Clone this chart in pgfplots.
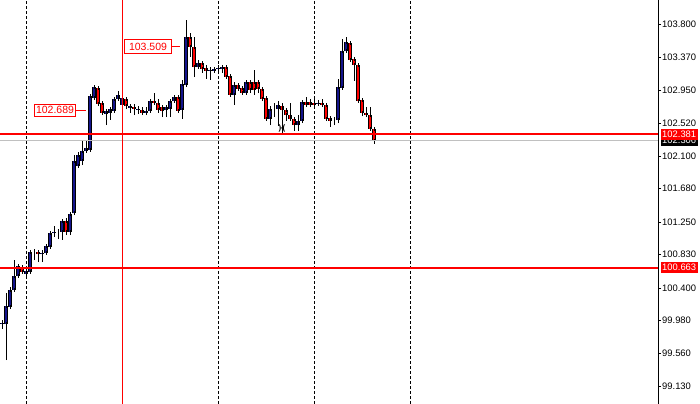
\documentclass[border=0pt]{standalone}
\usepackage{fontspec}
\setmainfont{Liberation Sans}
\usepackage{pgfplots}
\usepackage{pgfplotstable}
\pgfplotsset{compat=1.18}

\definecolor{bullblue}{RGB}{20,20,140}
\definecolor{bearred}{RGB}{255,0,0}
\definecolor{bidgray}{RGB}{192,192,192}

% candles: x = bar index, o h l c = open high low close
\pgfplotstableread{
x o h l c
0 99.937 99.988 99.873 99.950
1 99.937 100.336 99.473 100.169
2 100.156 100.413 100.130 100.375
3 100.375 100.761 100.375 100.555
4 100.555 100.710 100.542 100.684
6 100.581 100.671 100.568 100.619
7 100.607 100.890 100.607 100.864
8 100.877 100.890 100.761 100.877
10 100.838 100.890 100.735 100.851
11 100.851 100.967 100.838 100.941
12 100.928 101.122 100.903 101.109
13 101.109 101.199 101.057 101.122
14 101.122 101.160 101.031 101.122
15 101.122 101.276 101.019 101.263
17 101.122 101.366 101.083 101.353
18 101.366 102.113 101.340 102.036
19 101.971 102.152 101.959 102.113
20 102.036 102.293 101.984 102.165
21 102.165 102.293 102.152 102.203
22 102.177 102.886 102.165 102.873
23 102.847 103.014 102.834 102.989
26 102.641 102.693 102.499 102.680
27 102.654 102.718 102.564 102.705
28 102.680 102.847 102.667 102.834
29 102.834 102.937 102.821 102.886
30 102.757 102.899 102.718 102.847
32 102.718 102.770 102.654 102.744
34 102.693 102.744 102.641 102.705
36 102.654 102.731 102.628 102.680
37 102.680 102.821 102.667 102.808
41 102.693 102.744 102.602 102.731
42 102.705 102.834 102.602 102.808
43 102.808 102.873 102.796 102.860
45 102.693 103.079 102.577 103.027
46 103.014 103.851 102.989 103.633
49 103.246 103.336 103.233 103.298
52 103.195 103.246 103.079 103.208
53 103.195 103.246 103.169 103.220
54 103.220 103.272 103.195 103.233
55 103.220 103.272 103.169 103.246
58 102.886 103.053 102.757 103.014
61 102.911 103.066 102.911 103.053
67 102.577 102.744 102.499 102.705
68 102.705 102.783 102.602 102.705
69 102.705 102.808 102.487 102.757
74 102.499 102.628 102.422 102.551
75 102.551 102.808 102.525 102.796
79 102.770 102.821 102.744 102.783
83 102.564 102.602 102.499 102.564
84 102.564 103.092 102.525 102.989
85 102.976 103.607 102.963 103.452
86 103.452 103.633 103.452 103.568
}\bull

\pgfplotstableread{
x o h l c
5 100.671 100.697 100.594 100.607
9 100.864 100.877 100.735 100.838
16 101.263 101.302 101.083 101.122
24 102.976 103.002 102.744 102.770
25 102.783 102.796 102.641 102.654
31 102.834 102.847 102.705 102.744
33 102.731 102.770 102.628 102.705
35 102.693 102.731 102.628 102.654
38 102.808 102.911 102.770 102.783
39 102.783 102.834 102.654 102.693
40 102.731 102.744 102.602 102.680
44 102.860 102.873 102.667 102.680
47 103.633 103.684 103.375 103.504
48 103.504 103.633 103.117 103.246
50 103.298 103.324 103.169 103.220
51 103.233 103.272 103.092 103.195
56 103.246 103.259 103.105 103.117
57 103.130 103.143 102.886 102.886
59 103.014 103.040 102.950 102.963
60 102.976 102.989 102.899 102.911
62 103.053 103.079 102.911 102.950
63 103.053 103.208 102.886 102.950
64 103.053 103.079 102.911 102.963
65 102.963 102.976 102.808 102.834
66 102.847 102.860 102.564 102.577
70 102.744 102.783 102.396 102.693
71 102.693 102.705 102.551 102.628
72 102.628 102.783 102.564 102.577
73 102.577 102.602 102.422 102.499
76 102.796 102.860 102.744 102.757
77 102.796 102.834 102.731 102.757
78 102.783 102.834 102.731 102.757
80 102.783 102.834 102.731 102.757
81 102.757 102.770 102.564 102.577
82 102.590 102.602 102.474 102.551
87 103.555 103.581 103.324 103.336
88 103.349 103.362 103.066 103.272
89 103.272 103.285 102.796 102.808
90 102.821 102.834 102.615 102.654
91 102.654 102.731 102.602 102.628
92 102.628 102.731 102.435 102.448
93 102.448 102.461 102.255 102.293
}\bear

\begin{document}
\begin{tikzpicture}
\useasboundingbox (0,0) rectangle (700bp,404bp);
\begin{axis}[
    scale only axis,
    width=658bp, height=404bp,
    xmin=-0.5, xmax=164,
    ymin=98.907, ymax=104.109,
    axis x line=none,
    axis y line*=right,
    y axis line style={black, line width=1bp},
    tick align=outside,
    major tick length=3bp,
    major tick style={black, line width=0.8bp},
    ytick={103.8,103.37,102.95,102.52,102.1,101.68,101.25,100.83,100.4,99.98,99.56,99.13},
    yticklabels={103.800,103.370,102.950,102.520,102.100,101.680,101.250,100.830,100.400,99.980,99.560,99.130},
    yticklabel style={font=\fontsize{9.4bp}{11bp}\selectfont, inner sep=1bp},
    clip mode=individual,
]

% time separators
\addplot[black, line width=0.8bp, dash pattern=on 3bp off 2bp] coordinates {(6,98.907) (6,104.109)};
\addplot[black, line width=0.8bp, dash pattern=on 3bp off 2bp] coordinates {(54,98.907) (54,104.109)};
\addplot[black, line width=0.8bp, dash pattern=on 3bp off 2bp] coordinates {(78,98.907) (78,104.109)};
\addplot[black, line width=0.8bp, dash pattern=on 3bp off 2bp] coordinates {(102,98.907) (102,104.109)};

% wicks
\addplot[draw=none, error bars/.cd, y dir=both, y explicit, error mark=none,
    error bar style={draw=black, line width=1bp}]
    table[x=x, y=l, y error plus expr=\thisrow{h}-\thisrow{l}, y error minus expr=0] {\bull};
\addplot[draw=none, error bars/.cd, y dir=both, y explicit, error mark=none,
    error bar style={draw=black, line width=1bp}]
    table[x=x, y=l, y error plus expr=\thisrow{h}-\thisrow{l}, y error minus expr=0] {\bear};

% body outlines
\addplot[draw=none, error bars/.cd, y dir=both, y explicit, error mark=none,
    error bar style={draw=black, line width=3.4bp}]
    table[x=x, y=o, y error plus expr=\thisrow{c}-\thisrow{o}, y error minus expr=0] {\bull};
\addplot[draw=none, error bars/.cd, y dir=both, y explicit, error mark=none,
    error bar style={draw=black, line width=3.4bp}]
    table[x=x, y=c, y error plus expr=\thisrow{o}-\thisrow{c}, y error minus expr=0] {\bear};

% body fills
\addplot[draw=none, error bars/.cd, y dir=both, y explicit, error mark=-,
    error mark options={black, mark size=1.7bp, line width=0.6bp},
    error bar style={draw=bullblue, line width=2.2bp}]
    table[x=x, y=o, y error plus expr=\thisrow{c}-\thisrow{o}, y error minus expr=0] {\bull};
\addplot[draw=none, error bars/.cd, y dir=both, y explicit, error mark=-,
    error mark options={black, mark size=1.7bp, line width=0.6bp},
    error bar style={draw=bearred, line width=2.2bp}]
    table[x=x, y=c, y error plus expr=\thisrow{o}-\thisrow{c}, y error minus expr=0] {\bear};

% fractal
\addplot[red, only marks, mark=text,
    text mark={\fontsize{8bp}{8bp}\selectfont\textbf{)\kern-0.6bp-\kern-0.6bp(}}]
    coordinates {(70,102.461)};

% price lines
\addplot[bidgray, line width=1bp] coordinates {(-0.5,102.306) (164,102.306)};
\addplot[red, line width=2bp] coordinates {(-0.5,102.381) (164,102.381)};
\addplot[red, line width=2bp] coordinates {(-0.5,100.663) (164,100.663)};
\addplot[red, line width=1bp] coordinates {(30,98.907) (30,104.109)};

% callouts
\node[draw=red, line width=1bp, fill=white, text=red, anchor=east, inner sep=0pt,
    minimum width=47bp, minimum height=14bp, font=\fontsize{10.5bp}{12bp}\selectfont]
    at (axis cs:42.5,103.509) {103.509};
\draw[red, line width=1bp] (axis cs:42.5,103.509) -- (axis cs:44.5,103.509);
\node[draw=red, line width=1bp, fill=white, text=red, anchor=east, inner sep=0pt,
    minimum width=41bp, minimum height=12bp, font=\fontsize{10.5bp}{12bp}\selectfont]
    at (axis cs:18.5,102.689) {102.689};
\draw[red, line width=1bp] (axis cs:18.5,102.689) -- (axis cs:21,102.689);

% price tags on the scale
\node[fill=black, text=white, anchor=west, inner sep=0pt, xshift=2.5bp,
    minimum width=37bp, minimum height=11bp, font=\fontsize{9.4bp}{11bp}\selectfont]
    at (axis cs:164,102.306) {102.306};
\node[fill=red, text=white, anchor=west, inner sep=0pt, xshift=2.5bp,
    minimum width=37bp, minimum height=11bp, font=\fontsize{9.4bp}{11bp}\selectfont]
    at (axis cs:164,102.381) {102.381};
\node[fill=red, text=white, anchor=west, inner sep=0pt, xshift=2.5bp,
    minimum width=37bp, minimum height=11bp, font=\fontsize{9.4bp}{11bp}\selectfont]
    at (axis cs:164,100.663) {100.663};

\end{axis}
\end{tikzpicture}
\end{document}
